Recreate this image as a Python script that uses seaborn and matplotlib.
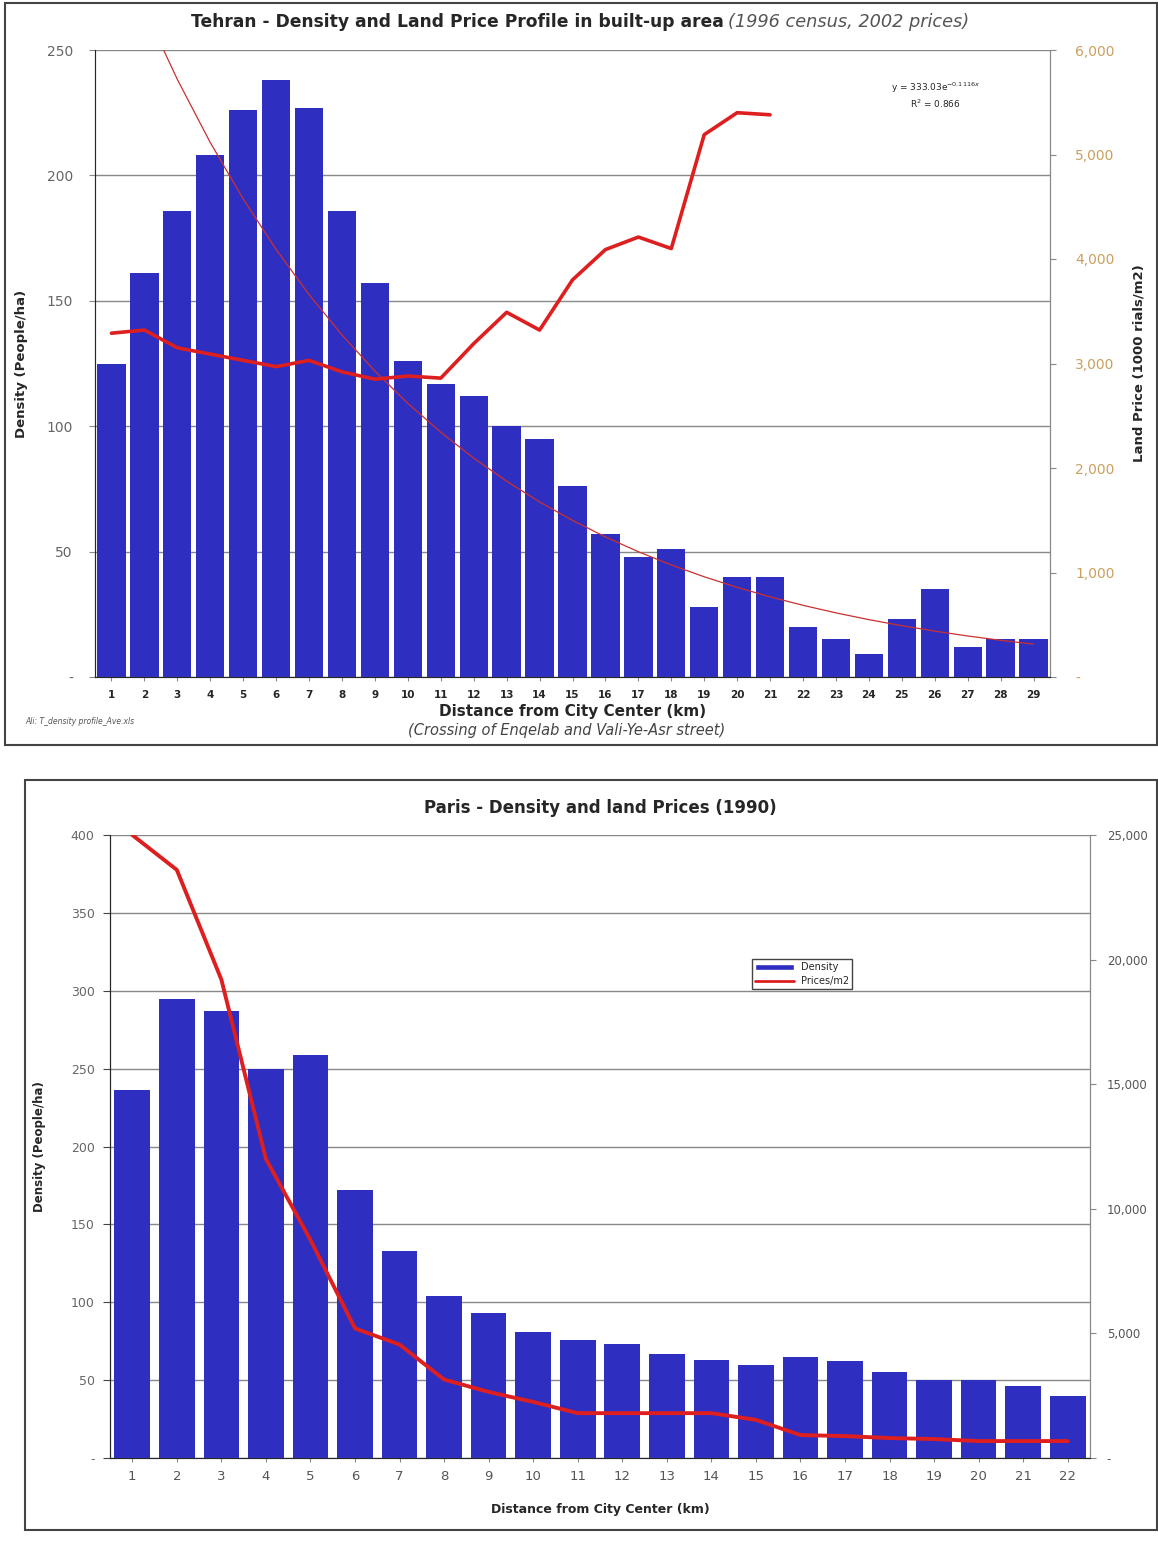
import matplotlib
matplotlib.use("Agg")
import matplotlib.pyplot as plt
import numpy as np
import seaborn as sns
from matplotlib.ticker import FuncFormatter
from matplotlib.patches import Rectangle, Patch
from matplotlib.lines import Line2D

# Tehran (1996 census, 2002 prices)
TEHRAN_KM = list(range(1, 30))
TEHRAN_DENSITY = [125, 161, 186, 208, 226, 238, 227, 186, 157, 126, 117, 112, 100, 95,
                  76, 57, 48, 51, 28, 40, 40, 20, 15, 9, 23, 35, 12, 15, 15]
TEHRAN_PRICE_KM = list(range(1, 22))
TEHRAN_PRICE = [3290, 3320, 3150, 3090, 3030, 2970, 3030, 2920, 2850, 2880, 2860,
                3190, 3490, 3320, 3800, 4090, 4210, 4100, 5190, 5400, 5380]
TREND_A, TREND_B = 333.03, -0.1116   # exponential trendline

# Paris (1990)
PARIS_KM = list(range(1, 23))
PARIS_DENSITY = [236, 295, 287, 250, 259, 172, 133, 104, 93, 81, 76, 73, 67, 63,
                 60, 65, 62, 55, 50, 50, 46, 40]
PARIS_PRICE = [25000, 23600, 19200, 12000, 8750, 5200, 4550, 3150, 2650, 2250, 1800,
               1800, 1800, 1800, 1530, 920, 880, 800, 760, 680, 680, 680]

BAR_BLUE = "#2e2ec0"
LINE_RED = "#dd1f1f"

sns.set_style("white")
plt.rcParams["font.family"] = ["DejaVu Sans"]

fig = plt.figure(figsize=(11.58, 15.5), dpi=100)


def dash_fmt(v, pos):
    return "-" if v == 0 else f"{v:,.0f}"


# outer frames
fig.add_artist(Rectangle((5 / 1158, 1 - 745 / 1550), 1152 / 1158, 742 / 1550,
                         transform=fig.transFigure, fill=False, ec="#444444", lw=1.5))
fig.add_artist(Rectangle((25 / 1158, 1 - 1530 / 1550), 1132 / 1158, 750 / 1550,
                         transform=fig.transFigure, fill=False, ec="#444444", lw=1.5))

# ---------------- Tehran ----------------
ax = fig.add_axes([95 / 1158, 1 - 677 / 1550, 955 / 1158, 627 / 1550])
sns.barplot(x=TEHRAN_KM, y=TEHRAN_DENSITY, native_scale=True, color=BAR_BLUE,
            saturation=1, width=0.86, linewidth=0, ax=ax, zorder=2)
ax.set_xlim(0.5, 29.5)
ax.set_ylim(0, 250)
ax.set_yticks(range(0, 251, 50))
ax.yaxis.set_major_formatter(FuncFormatter(dash_fmt))
ax.set_xticks(TEHRAN_KM)
ax.set_xticklabels([str(k) for k in TEHRAN_KM], fontsize=7.5, fontweight="bold")
ax.tick_params(axis="y", labelsize=10, labelcolor="#666666", length=4, direction="out",
               left=True, color="#888888", pad=12)
ax.tick_params(axis="x", length=3, bottom=True, color="#888888", pad=6)
ax.grid(axis="y", color="#888888", lw=1)
ax.set_axisbelow(True)
ax.spines["top"].set_visible(False)
for s in ["left", "bottom", "right"]:
    ax.spines[s].set_color("#888888")

trend_x = np.array(TEHRAN_KM, dtype=float)
ax.plot(trend_x, TREND_A * np.exp(TREND_B * trend_x), color="#cc3030", lw=0.9, zorder=3)

ax.set_ylabel("Density (People/ha)", fontsize=9.5, fontweight="bold", labelpad=13)
ax.set_xlabel("Distance from City Center (km)", fontsize=11, fontweight="bold", labelpad=3)

ax2 = ax.twinx()
sns.lineplot(x=TEHRAN_PRICE_KM, y=TEHRAN_PRICE, color=LINE_RED, lw=2.6, ax=ax2)
ax2.set_ylim(0, 6000)
ax2.set_yticks(range(0, 6001, 1000))
ax2.yaxis.set_major_formatter(FuncFormatter(dash_fmt))
ax2.tick_params(axis="y", labelsize=10, labelcolor="#c8a060", length=4, right=True,
                color="#888888", pad=14)
ax2.spines["top"].set_visible(False)
ax2.spines["right"].set_color("#888888")
ax2.set_ylabel("Land Price (1000 rials/m2)", fontsize=9.5, fontweight="bold", labelpad=13)

fig.text(724 / 1158, 1 - 22 / 1550, "Tehran - Density and Land Price Profile in built-up area",
         ha="right", va="center", fontsize=12.3, fontweight="bold")
fig.text(728 / 1158, 1 - 22 / 1550, "(1996 census, 2002 prices)",
         ha="left", va="center", fontsize=12.8, fontstyle="italic", color="#555555")
fig.text(567 / 1158, 1 - 730 / 1550, "(Crossing of Enqelab and Vali-Ye-Asr street)",
         ha="center", va="center", fontsize=10.5, fontstyle="italic", color="#444444")
fig.text(25 / 1158, 1 - 722 / 1550, "Ali: T_density profile_Ave.xls",
         ha="left", va="center", fontsize=5.5, fontstyle="italic", color="#555555")
fig.text(935 / 1158, 1 - 88 / 1550, f"y = {TREND_A:.2f}e$^{{{TREND_B:.4f}x}}$",
         ha="center", va="center", fontsize=6.5)
fig.text(935 / 1158, 1 - 104 / 1550, "R$^2$ = 0.866", ha="center", va="center", fontsize=6.5)

# ---------------- Paris ----------------
bx = fig.add_axes([110 / 1158, 1 - 1458 / 1550, 980 / 1158, 623 / 1550])
sns.barplot(x=PARIS_KM, y=PARIS_DENSITY, native_scale=True, color=BAR_BLUE,
            saturation=1, width=0.8, linewidth=0, ax=bx, zorder=2)
bx.set_xlim(0.5, 22.5)
bx.set_ylim(0, 400)
bx.set_yticks(range(0, 401, 50))
bx.yaxis.set_major_formatter(FuncFormatter(dash_fmt))
bx.set_xticks(PARIS_KM)
bx.set_xticklabels([str(k) for k in PARIS_KM], fontsize=9.5, color="#555555")
bx.tick_params(axis="y", labelsize=9, labelcolor="#666666", length=5, left=True,
               color="#444444", pad=6)
bx.tick_params(axis="x", length=3, bottom=True, color="#888888", pad=6)
bx.grid(axis="y", color="#888888", lw=1)
bx.set_axisbelow(True)
bx.spines["top"].set_visible(False)
bx.spines["left"].set_color("#333333")
for s in ["bottom", "right"]:
    bx.spines[s].set_color("#888888")
bx.set_ylabel("Density (People/ha)", fontsize=8.5, fontweight="bold", labelpad=18)
bx.set_xlabel("Distance from City Center (km)", fontsize=9, fontweight="bold", labelpad=14)
bx.set_title("Paris - Density and land Prices (1990)", fontsize=12, fontweight="bold", pad=16)

bx2 = bx.twinx()
sns.lineplot(x=PARIS_KM, y=PARIS_PRICE, color=LINE_RED, lw=2.8, ax=bx2)
bx2.set_ylim(0, 25000)
bx2.set_yticks(range(0, 25001, 5000))
bx2.yaxis.set_major_formatter(FuncFormatter(dash_fmt))
bx2.tick_params(axis="y", labelsize=8.5, labelcolor="#555555", length=4, right=True,
                color="#888888", pad=8)
bx2.spines["top"].set_visible(False)
bx2.spines["right"].set_color("#888888")
bx2.set_ylabel("")

handles = [Patch(facecolor=BAR_BLUE, label="Density"),
           Line2D([0], [0], color=LINE_RED, lw=2, label="Prices/m2")]
bx2.legend(handles=handles, loc="upper left", bbox_to_anchor=(0.65, 0.808), fontsize=7,
           frameon=True, fancybox=False, edgecolor="#444444", framealpha=1,
           handlelength=4, borderpad=0.3, labelspacing=0.4)

fig.savefig("out.png", dpi=100)
